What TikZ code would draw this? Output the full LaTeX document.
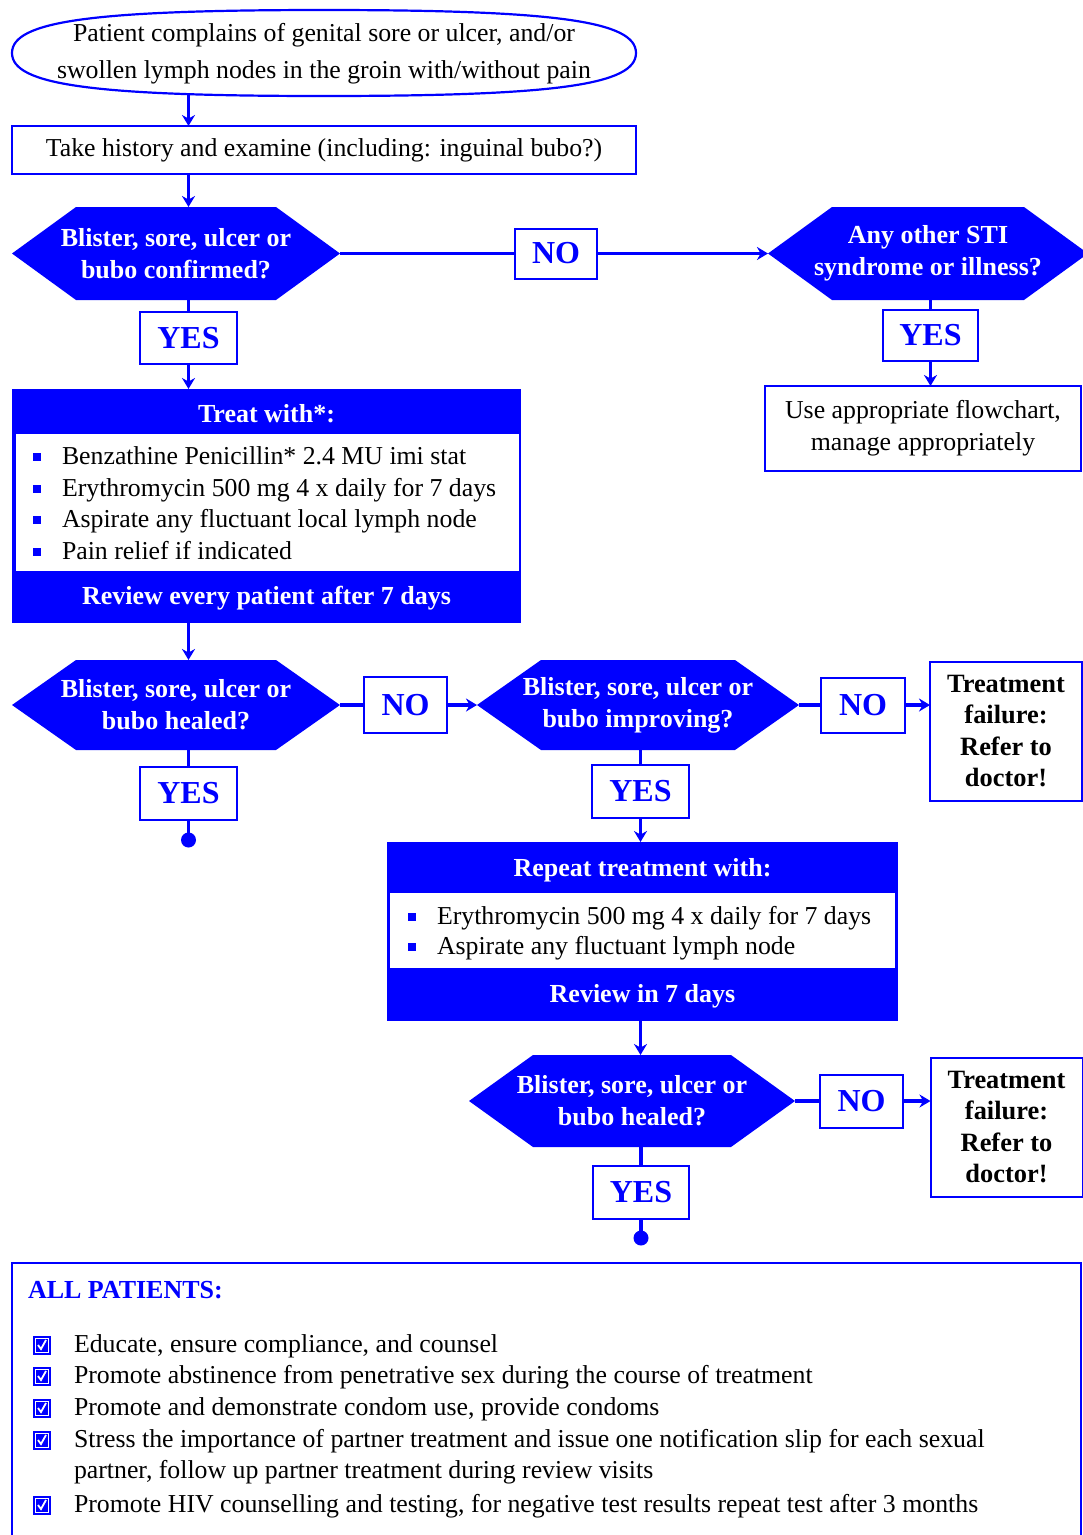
\documentclass[tikz,border=0pt]{standalone}
\usepackage{fontspec}
\setmainfont{Liberation Serif}
\usetikzlibrary{shapes.geometric,arrows.meta,calc}
\definecolor{bl}{RGB}{0,0,255}
\begin{document}
\begin{tikzpicture}[x=1pt,y=-1pt,
  every node/.style={inner sep=0pt, outer sep=0pt},
  txt/.style={font=\fontsize{25.8}{37}\selectfont, align=center},
  box/.style={draw=bl, line width=2pt, fill=white, rectangle, align=center, font=\fontsize{25.8}{32}\selectfont},
  yn/.style={draw=bl, line width=2pt, fill=white, text=bl, font=\fontsize{32}{34}\selectfont\bfseries},
  hexa/.style={fill=white, text=white, align=center, font=\fontsize{26}{32}\selectfont\bfseries,
    path picture={\fill[bl] (path picture bounding box.west)
      -- ([xshift=64pt]path picture bounding box.north west)
      -- ([xshift=-64pt]path picture bounding box.north east)
      -- (path picture bounding box.east)
      -- ([xshift=-64pt]path picture bounding box.south east)
      -- ([xshift=64pt]path picture bounding box.south west) -- cycle;}},
  fail/.style={box, font=\fontsize{26.4}{31.5}\selectfont\bfseries, minimum width=152pt, minimum height=139pt},
  bluehead/.style={text=white, font=\fontsize{26}{31}\selectfont\bfseries},
  ln/.style={anchor=west, text height=17pt, text depth=5pt, font=\fontsize{25.8}{31}\selectfont},
  bul/.style={fill=bl, minimum size=8pt},
  chk/.style={fill=bl, minimum width=18pt, minimum height=19pt},
  conn/.style={draw=bl, line width=3.2pt},
  arr/.style={conn, -{Stealth[length=11pt,width=13pt]}},
  dotn/.style={circle, fill=bl, minimum size=15pt}
]
\useasboundingbox (0,0) rectangle (1083,1535);

% start (fat ellipse)
\node[minimum width=624pt, minimum height=86pt] (start) at (324,53) {};
\draw[bl, line width=2.2pt]
  (start.west) .. controls ($(start.west)+(0,-32)$) and ($(start.north)+(-231,0)$) .. (start.north)
  .. controls ($(start.north)+(231,0)$) and ($(start.east)+(0,-32)$) .. (start.east)
  .. controls ($(start.east)+(0,32)$) and ($(start.south)+(231,0)$) .. (start.south)
  .. controls ($(start.south)+(-231,0)$) and ($(start.west)+(0,32)$) .. (start.west) -- cycle;
\node[txt] (starttext) at (324,53.5) {Patient complains of genital sore or ulcer, and/or\\swollen lymph nodes in the groin with/without pain};

\node[box, minimum width=624pt, minimum height=48pt] (hist) at (324,150) {Take history and examine (including: inguinal bubo?)};

% first decision
\node[hexa, minimum width=328pt, minimum height=93pt] (q1) at (176,253.5) {Blister, sore, ulcer or\\bubo confirmed?};
\node[yn, minimum width=82pt, minimum height=50pt] (no1) at (556,253.5) {NO};
\node[hexa, minimum width=320pt, minimum height=93pt] (q2) at (928,253.5) {Any other STI\\syndrome or illness?};
\node[yn, minimum width=95pt, minimum height=51pt] (yes2) at (930.5,335.5) {YES};
\node[box, minimum width=316pt, minimum height=85pt] (use) at (923,428.5) {Use appropriate flowchart,\\manage appropriately};
\node[yn, minimum width=97pt, minimum height=52pt] (yes1) at (188.5,338) {YES};

% treat box
\node[fill=bl, minimum width=509pt, minimum height=234pt] (treat) at (266.5,506) {};
\node[fill=white, minimum width=503pt, minimum height=137pt] (treatlist) at (267,502.5) {};
\node[bluehead] (treathead) at (266.5,414) {Treat with*:};
\node[bluehead] (treatfoot) at (266.5,598) {Review every patient after 7 days};
\node[bul] (tb1) at (37,457) {};
\node[bul] (tb2) at (37,489) {};
\node[bul] (tb3) at (37,520) {};
\node[bul] (tb4) at (37,552) {};
\node[ln] (t1) at (62,458) {Benzathine Penicillin* 2.4 MU imi stat};
\node[ln] (t2) at (62,490) {Erythromycin 500 mg 4 x daily for 7 days};
\node[ln] (t3) at (62,521) {Aspirate any fluctuant local lymph node};
\node[ln] (t4) at (62,553) {Pain relief if indicated};

% second row
\node[hexa, minimum width=328pt, minimum height=90pt] (q3) at (176,705) {Blister, sore, ulcer or\\bubo healed?};
\node[yn, minimum width=83pt, minimum height=56pt] (no3) at (405.5,705) {NO};
\node[hexa, minimum width=322pt, minimum height=90pt] (q4) at (638,705) {Blister, sore, ulcer or\\bubo improving?};
\node[yn, minimum width=84pt, minimum height=55pt] (no4) at (863,705) {NO};
\node[fail] (fail1) at (1006,731) {Treatment\\failure:\\Refer to\\doctor!};
\node[yn, minimum width=97pt, minimum height=53pt] (yes3) at (188.5,793.5) {YES};
\node[dotn] (dot1) at (188.5,840) {};
\node[yn, minimum width=97pt, minimum height=53pt] (yes4) at (640.5,791.5) {YES};

% repeat box
\node[fill=bl, minimum width=511pt, minimum height=179pt] (rep) at (642.5,931.5) {};
\node[fill=white, minimum width=505pt, minimum height=75pt] (replist) at (642.5,930.5) {};
\node[bluehead] (rephead) at (642.5,870) {Repeat treatment with:};
\node[bluehead] (repfoot) at (642.5,996) {Review in 7 days};
\node[bul] (rb1) at (412,917) {};
\node[bul] (rb2) at (412,947) {};
\node[ln] (r1) at (437,918) {Erythromycin 500 mg 4 x daily for 7 days};
\node[ln] (r2) at (437,948) {Aspirate any fluctuant lymph node};

% third decision
\node[hexa, minimum width=326pt, minimum height=92pt] (q5) at (632,1101) {Blister, sore, ulcer or\\bubo healed?};
\node[yn, minimum width=83pt, minimum height=53pt] (no5) at (861.5,1101) {NO};
\node[fail] (fail2) at (1006.5,1127) {Treatment\\failure:\\Refer to\\doctor!};
\node[yn, minimum width=96pt, minimum height=53pt] (yes5) at (641,1192.5) {YES};
\node[dotn] (dot2) at (641,1238) {};

% all patients
\node[draw=bl, line width=2pt, minimum width=1069pt, minimum height=320pt, anchor=north west] (allp) at (12,1263) {};
\node[anchor=west, text=bl, font=\fontsize{26}{31}\selectfont\bfseries] (allhead) at (28,1290) {ALL PATIENTS:};
\foreach \i/\y in {1/1345,2/1376,3/1408,4/1440,5/1505}{
  \node[chk] (c\i) at (42,\y) {};
  \draw[white, line width=1pt] ($(c\i.center)+(-6.5,-7)$) rectangle ($(c\i.center)+(6.5,7)$);
  \draw[white, line width=1.8pt] ($(c\i.center)+(-4,0)$) -- ++(3,4) -- ++(5,-9);
}
\node[ln] (a1) at (74,1346) {Educate, ensure compliance, and counsel};
\node[ln] (a2) at (74,1377) {Promote abstinence from penetrative sex during the course of treatment};
\node[ln] (a3) at (74,1409) {Promote and demonstrate condom use, provide condoms};
\node[ln] (a4) at (74,1441) {Stress the importance of partner treatment and issue one notification slip for each sexual};
\node[ln] (a4b) at (74,1472) {partner, follow up partner treatment during review visits};
\node[ln] (a5) at (74,1506) {Promote HIV counselling and testing, for negative test results repeat test after 3 months};

% connectors
\draw[arr] ([yshift=2pt]start.south -| yes1) -- (hist.north -| yes1);
\draw[arr] (hist.south -| yes1) -- (q1.north -| yes1);
\draw[conn] (q1.south -| yes1) -- (yes1.north);
\draw[arr] (yes1.south) -- (treat.north -| yes1);
\draw[conn] (q1.east) -- (no1.west);
\draw[arr] (no1.east) -- (q2.west);
\draw[conn] (q2.south -| yes2) -- (yes2.north);
\draw[arr] (yes2.south) -- (use.north -| yes2);
\draw[arr] (treat.south -| yes1) -- (q3.north -| yes1);
\draw[conn] (q3.east) -- (no3.west);
\draw[arr] (no3.east) -- (q4.west);
\draw[conn] (q4.east) -- (no4.west);
\draw[arr] (no4.east) -- (no4.east -| fail1.west);
\draw[conn] (q3.south -| yes3) -- (yes3.north);
\draw[conn] (yes3.south) -- (dot1.center);
\draw[conn] (q4.south -| yes4) -- (yes4.north);
\draw[arr] (yes4.south) -- (rep.north -| yes4);
\draw[arr] (rep.south -| yes4) -- (q5.north -| yes4);
\draw[conn] (q5.east) -- (no5.west);
\draw[arr] (no5.east) -- (no5.east -| fail2.west);
\draw[conn] (q5.south -| yes5) -- (yes5.north);
\draw[conn] (yes5.south) -- (dot2.center);
\end{tikzpicture}
\end{document}
